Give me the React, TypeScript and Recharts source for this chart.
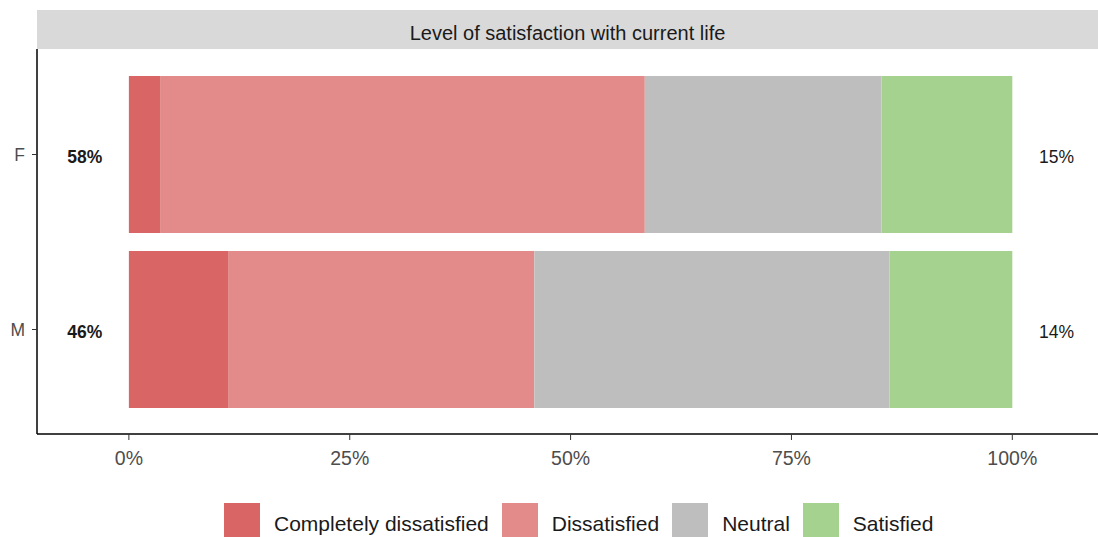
import React from "react";
import { BarChart, Bar, XAxis, YAxis, Legend, ReferenceDot } from "recharts";

const groups = ["F", "M"];
const completelyDissatisfied = [0.036, 0.113];
const dissatisfied = [0.548, 0.346];
const neutral = [0.268, 0.402];
const satisfied = [0.148, 0.139];
const leftLabels = ["58%", "46%"];
const rightLabels = ["15%", "14%"];
const xTicks = [0, 0.25, 0.5, 0.75, 1];
const stripTitle = "Level of satisfaction with current life";

const seriesNames = ["Completely dissatisfied", "Dissatisfied", "Neutral", "Satisfied"];
const seriesKeys = ["cd", "d", "n", "s"];
const seriesColors = ["#d96565", "#e38b8a", "#bebebe", "#a6d290"];

const data = groups.map((g, i) => ({
  group: g,
  cd: completelyDissatisfied[i],
  d: dissatisfied[i],
  n: neutral[i],
  s: satisfied[i],
}));

const FONT = '"Liberation Sans", Arial, sans-serif';

const StripLabel = (props: any) => {
  const vb = props.viewBox || {};
  const { x = 0, y = 0, width = 0, height = 0 } = vb;
  return (
    <g>
      <rect x={x} y={y} width={width} height={height} fill="#d9d9d9" />
      <text
        x={x + width / 2}
        y={y + height / 2 + 10}
        textAnchor="middle"
        fontSize={20}
        fontFamily={FONT}
        fill="#1a1a1a"
      >
        {stripTitle}
      </text>
    </g>
  );
};

const makeDotLabel = (text: string, bold: boolean) => (props: any) => {
  const vb = props.viewBox || {};
  const cx = (vb.x || 0) + (vb.width || 0) / 2;
  const cy = (vb.y || 0) + (vb.height || 0) / 2;
  return (
    <text
      x={cx}
      y={cy + 8}
      textAnchor="middle"
      fontSize={17.5}
      fontWeight={bold ? "bold" : "normal"}
      fontFamily={FONT}
      fill="#1a1a1a"
    >
      {text}
    </text>
  );
};

const LegendContent = () => (
  <div
    style={{
      display: "flex",
      alignItems: "flex-start",
      fontFamily: FONT,
      fontSize: 21,
      color: "#1a1a1a",
      paddingLeft: 224,
      paddingTop: 29,
      boxSizing: "border-box",
      height: 63,
    }}
  >
    {seriesNames.map((name, i) => (
      <div key={name} style={{ display: "flex", alignItems: "center", marginRight: 13 }}>
        <div style={{ width: 36, height: 36, background: seriesColors[i], marginRight: 14 }} />
        <span style={{ lineHeight: "36px", position: "relative", top: 3 }}>{name}</span>
      </div>
    ))}
  </div>
);

export default function App() {
  return (
    <div style={{ position: "absolute", left: 0, top: 0, width: 1098, height: 537, background: "#fff", fontFamily: FONT }}>
      <BarChart
        width={1098}
        height={537}
        data={data}
        layout="vertical"
        margin={{ top: 10, right: 0, bottom: 0, left: 0 }}
        barSize={157}
      >
        <XAxis
          xAxisId="strip"
          orientation="top"
          type="number"
          height={39}
          axisLine={false}
          tickLine={false}
          tick={false}
          label={{ content: StripLabel } as any}
        />
        <XAxis
          type="number"
          domain={[-0.104, 1.097]}
          ticks={xTicks}
          allowDataOverflow
          tickFormatter={(v: number) => `${Math.round(v * 100)}%`}
          height={40}
          tickSize={6}
          tickMargin={11}
          axisLine={{ stroke: "#000", strokeWidth: 1.5 }}
          tickLine={{ stroke: "#333" }}
          tick={{ fill: "#4d4d4d", fontSize: 19.5, fontFamily: FONT }}
        />
        <YAxis
          type="category"
          dataKey="group"
          width={37}
          padding={{ top: 18, bottom: 17 }}
          tickSize={5}
          tickMargin={7}
          axisLine={{ stroke: "#000", strokeWidth: 1.5 }}
          tickLine={{ stroke: "#333" }}
          tick={{ fill: "#4d4d4d", fontSize: 17.5, fontFamily: FONT }}
        />
        {seriesKeys.map((k, i) => (
          <Bar
            key={k}
            dataKey={k}
            name={seriesNames[i]}
            stackId="a"
            fill={seriesColors[i]}
            isAnimationActive={false}
          />
        ))}
        {groups.map((g, i) => (
          <ReferenceDot
            key={"l" + g}
            x={-0.05}
            y={g}
            r={0}
            fill="none"
            stroke="none"
            ifOverflow="visible"
            label={{ content: makeDotLabel(leftLabels[i], true) } as any}
          />
        ))}
        {groups.map((g, i) => (
          <ReferenceDot
            key={"r" + g}
            x={1.05}
            y={g}
            r={0}
            fill="none"
            stroke="none"
            ifOverflow="visible"
            label={{ content: makeDotLabel(rightLabels[i], false) } as any}
          />
        ))}
        <Legend
          verticalAlign="bottom"
          height={63}
          wrapperStyle={{ left: 0, top: 474, width: 1098, height: 63 }}
          content={LegendContent as any}
        />
      </BarChart>
    </div>
  );
}
